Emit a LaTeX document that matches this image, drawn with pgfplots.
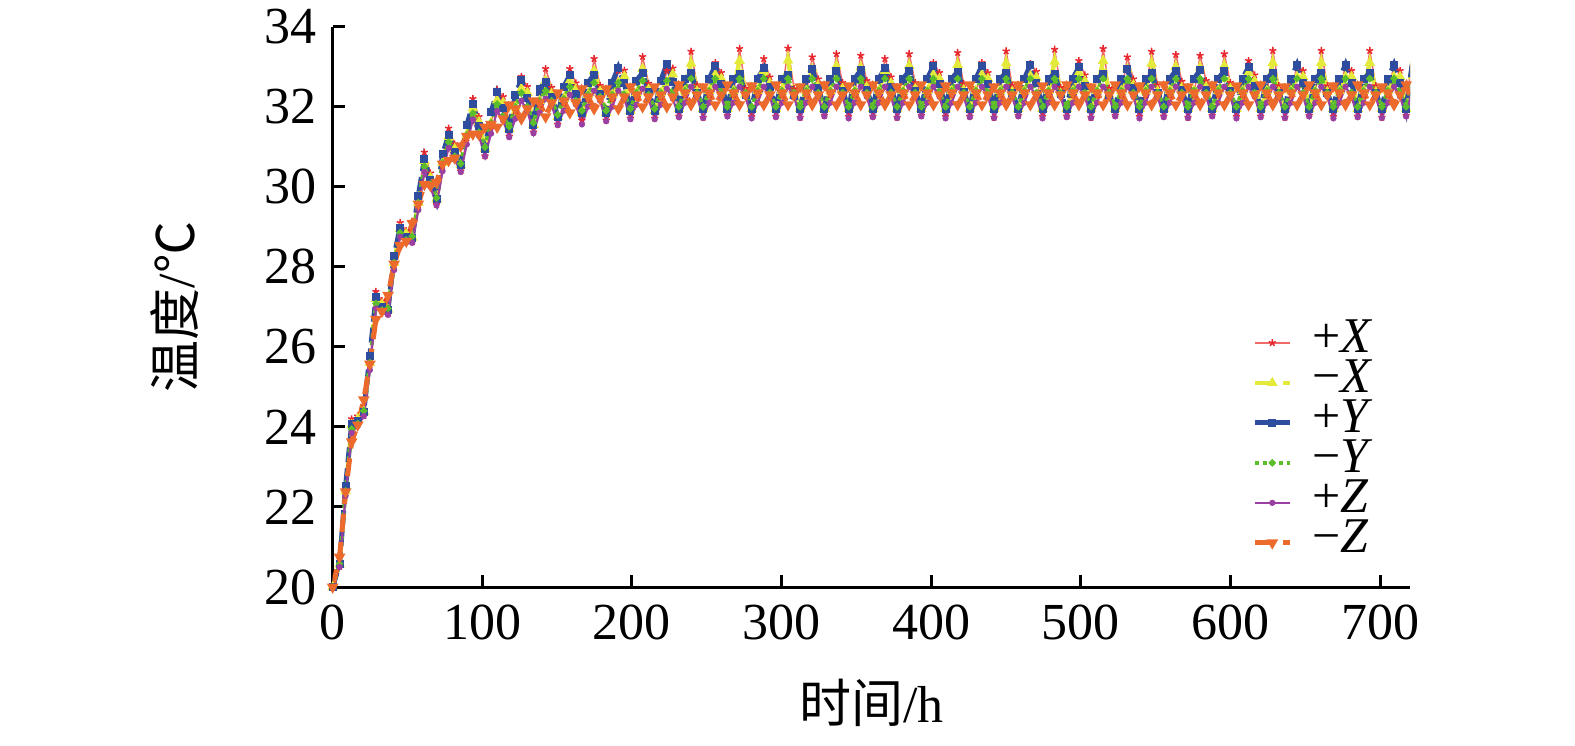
\documentclass[border=0pt]{standalone}
\usepackage{pgfplots}
\pgfplotsset{compat=1.18}
\usepackage{pgfplotstable}
\usepackage{fontspec}
\setmainfont{Liberation Serif}
\newfontfamily\cjk{Noto Sans CJK SC}
\definecolor{cR}{HTML}{E8262D}
\definecolor{cRl}{HTML}{F06A6A}
\definecolor{cY}{HTML}{E4EA3A}
\definecolor{cB}{HTML}{2E4D9E}
\definecolor{cG}{HTML}{5DBE2C}
\definecolor{cP}{HTML}{9B3FA2}
\definecolor{cO}{HTML}{EC6A2C}
\pgfplotstableread{
t R Y B G P O
0.00 20.00 20.00 20.00 20.00 20.00 20.00
4.60 20.51 20.57 20.57 20.58 20.50 20.75
8.65 22.36 22.40 22.52 22.40 22.28 22.38
12.70 24.20 24.05 24.08 23.95 23.85 23.63
16.75 24.27 24.20 24.15 24.08 24.03 24.05
20.80 24.28 24.38 24.38 24.40 24.27 24.68
24.85 25.54 25.60 25.78 25.60 25.42 25.57
28.90 27.38 27.20 27.24 27.08 26.96 26.69
32.95 27.15 27.06 27.00 26.92 26.86 26.89
37.00 26.82 26.93 26.93 26.96 26.80 27.29
41.05 28.04 28.10 28.28 28.10 27.92 28.07
45.10 29.10 28.95 28.98 28.85 28.75 28.53
49.15 28.90 28.82 28.75 28.67 28.61 28.64
53.20 28.62 28.73 28.73 28.76 28.60 29.09
57.25 29.54 29.60 29.78 29.60 29.42 29.57
61.30 30.86 30.65 30.69 30.51 30.37 30.06
65.35 30.34 30.23 30.16 30.07 30.00 30.03
69.40 29.55 29.69 29.69 29.72 29.54 30.11
73.45 30.53 30.60 30.81 30.60 30.39 30.57
77.50 31.46 31.25 31.29 31.11 30.97 30.66
81.55 31.07 30.95 30.87 30.76 30.68 30.72
85.60 30.39 30.54 30.54 30.58 30.37 31.02
89.65 31.22 31.30 31.54 31.30 31.06 31.26
93.70 32.20 31.96 32.07 31.84 31.68 31.32
97.75 31.75 31.62 31.52 31.36 31.27 31.31
101.80 30.77 30.95 30.95 30.99 30.76 31.49
105.85 31.51 31.60 31.87 31.60 31.33 31.56
109.90 32.43 32.16 32.36 32.07 31.89 31.49
113.95 32.25 32.10 31.96 31.75 31.65 31.70
118.00 31.26 31.45 31.45 31.50 31.24 32.05
122.05 31.90 32.00 32.30 32.00 31.70 31.95
126.10 32.75 32.45 32.67 32.35 32.15 31.70
130.15 32.50 32.35 32.21 32.00 31.90 31.95
134.20 31.36 31.55 31.55 31.60 31.34 32.15
138.25 32.05 32.15 32.45 32.15 31.85 32.10
142.30 32.95 32.65 32.63 32.40 32.20 31.75
146.35 32.48 32.33 32.25 32.15 32.05 32.10
150.40 31.56 31.75 31.75 31.80 31.54 32.35
154.45 32.10 32.20 32.50 32.20 31.90 32.15
158.50 32.95 32.65 32.79 32.50 32.30 31.85
162.55 32.59 32.44 32.33 32.15 32.05 32.10
166.60 31.66 31.85 31.85 31.90 31.56 32.45
170.65 32.20 32.30 32.60 32.30 32.00 32.25
174.70 33.20 32.90 32.80 32.60 32.40 31.95
178.75 32.53 32.38 32.31 32.25 32.15 32.20
182.80 31.66 31.85 31.85 31.90 31.64 32.45
186.85 32.20 32.30 32.60 32.30 32.00 32.25
190.90 32.90 32.60 32.98 32.60 32.40 31.95
194.95 32.91 32.76 32.59 32.30 32.20 32.25
199.00 31.71 31.90 31.90 31.95 31.69 32.50
203.05 32.25 32.35 32.65 32.35 32.05 32.30
207.10 33.25 32.95 32.85 32.65 32.45 32.00
211.15 32.58 32.43 32.36 32.30 32.20 32.25
215.20 31.71 31.90 31.90 31.95 31.69 32.50
219.25 32.25 32.35 32.65 32.35 32.05 32.30
223.30 32.90 32.60 33.06 32.65 32.45 32.00
227.35 32.96 32.81 32.63 32.30 32.20 32.25
231.40 31.76 31.95 31.95 32.00 31.74 32.55
235.45 32.30 32.40 32.70 32.40 32.10 32.35
239.50 33.38 33.08 32.85 32.70 32.50 32.05
243.55 32.54 32.39 32.35 32.35 32.25 32.30
247.60 31.73 31.95 31.95 32.00 31.72 32.50
251.65 32.30 32.40 32.70 32.40 32.10 32.35
255.70 33.10 32.80 33.02 32.70 32.50 32.05
259.75 32.85 32.70 32.56 32.35 32.25 32.30
263.80 31.78 31.95 31.95 32.00 31.76 32.55
267.85 32.30 32.40 32.70 32.40 32.10 32.35
271.90 33.45 33.15 32.81 32.70 32.50 32.05
275.95 32.46 32.31 32.30 32.35 32.25 32.30
280.00 31.75 31.95 31.95 32.00 31.71 32.52
284.05 32.30 32.40 32.70 32.40 32.10 32.35
288.10 33.20 32.90 32.96 32.70 32.50 32.05
292.15 32.74 32.59 32.49 32.35 32.25 32.30
296.20 31.76 31.95 31.95 32.00 31.74 32.55
300.25 32.30 32.40 32.70 32.40 32.10 32.35
304.30 33.46 33.16 32.80 32.70 32.50 32.05
308.35 32.45 32.30 32.29 32.35 32.25 32.30
312.40 31.73 31.95 31.95 32.00 31.72 32.50
316.45 32.30 32.40 32.70 32.40 32.10 32.35
320.50 33.24 32.94 32.94 32.70 32.50 32.05
324.55 32.69 32.54 32.46 32.35 32.25 32.30
328.60 31.78 31.95 31.95 32.00 31.76 32.55
332.65 32.30 32.40 32.70 32.40 32.10 32.35
336.70 33.32 33.02 32.89 32.70 32.50 32.05
340.75 32.60 32.45 32.40 32.35 32.25 32.30
344.80 31.75 31.95 31.95 32.00 31.71 32.52
348.85 32.30 32.40 32.70 32.40 32.10 32.35
352.90 33.28 32.98 32.91 32.70 32.50 32.05
356.95 32.65 32.50 32.43 32.35 32.25 32.30
361.00 31.76 31.95 31.95 32.00 31.74 32.55
365.05 32.30 32.40 32.70 32.40 32.10 32.35
369.10 33.20 32.90 32.96 32.70 32.50 32.05
373.15 32.74 32.59 32.49 32.35 32.25 32.30
377.20 31.73 31.95 31.95 32.00 31.72 32.50
381.25 32.30 32.40 32.70 32.40 32.10 32.35
385.30 33.32 33.02 32.89 32.70 32.50 32.05
389.35 32.60 32.45 32.40 32.35 32.25 32.30
393.40 31.78 31.95 31.95 32.00 31.76 32.55
397.45 32.30 32.40 32.70 32.40 32.10 32.35
401.50 33.10 32.80 33.02 32.70 32.50 32.05
405.55 32.85 32.70 32.56 32.35 32.25 32.30
409.60 31.75 31.95 31.95 32.00 31.71 32.52
413.65 32.30 32.40 32.70 32.40 32.10 32.35
417.70 33.35 33.05 32.87 32.70 32.50 32.05
421.75 32.57 32.42 32.38 32.35 32.25 32.30
425.80 31.76 31.95 31.95 32.00 31.74 32.55
429.85 32.30 32.40 32.70 32.40 32.10 32.35
433.90 33.10 32.80 33.02 32.70 32.50 32.05
437.95 32.85 32.70 32.56 32.35 32.25 32.30
442.00 31.73 31.95 31.95 32.00 31.72 32.50
446.05 32.30 32.40 32.70 32.40 32.10 32.35
450.10 33.39 33.09 32.85 32.70 32.50 32.05
454.15 32.53 32.38 32.35 32.35 32.25 32.30
458.20 31.78 31.95 31.95 32.00 31.76 32.55
462.25 32.30 32.40 32.70 32.40 32.10 32.35
466.30 33.07 32.77 33.04 32.70 32.50 32.05
470.35 32.88 32.73 32.59 32.35 32.25 32.30
474.40 31.75 31.95 31.95 32.00 31.71 32.52
478.45 32.30 32.40 32.70 32.40 32.10 32.35
482.50 33.43 33.13 32.82 32.70 32.50 32.05
486.55 32.48 32.33 32.32 32.35 32.25 32.30
490.60 31.76 31.95 31.95 32.00 31.74 32.55
494.65 32.30 32.40 32.70 32.40 32.10 32.35
498.70 33.15 32.85 32.99 32.70 32.50 32.05
502.75 32.79 32.64 32.53 32.35 32.25 32.30
506.80 31.73 31.95 31.95 32.00 31.72 32.50
510.85 32.30 32.40 32.70 32.40 32.10 32.35
514.90 33.45 33.15 32.81 32.70 32.50 32.05
518.95 32.46 32.31 32.30 32.35 32.25 32.30
523.00 31.78 31.95 31.95 32.00 31.76 32.55
527.05 32.30 32.40 32.70 32.40 32.10 32.35
531.10 33.24 32.94 32.94 32.70 32.50 32.05
535.15 32.69 32.54 32.46 32.35 32.25 32.30
539.20 31.75 31.95 31.95 32.00 31.71 32.52
543.25 32.30 32.40 32.70 32.40 32.10 32.35
547.30 33.38 33.08 32.85 32.70 32.50 32.05
551.35 32.54 32.39 32.35 32.35 32.25 32.30
555.40 31.76 31.95 31.95 32.00 31.74 32.55
559.45 32.30 32.40 32.70 32.40 32.10 32.35
563.50 33.30 33.00 32.90 32.70 32.50 32.05
567.55 32.63 32.48 32.41 32.35 32.25 32.30
571.60 31.73 31.95 31.95 32.00 31.72 32.50
575.65 32.30 32.40 32.70 32.40 32.10 32.35
579.70 33.28 32.98 32.91 32.70 32.50 32.05
583.75 32.65 32.50 32.43 32.35 32.25 32.30
587.80 31.78 31.95 31.95 32.00 31.76 32.55
591.85 32.30 32.40 32.70 32.40 32.10 32.35
595.90 33.32 33.02 32.89 32.70 32.50 32.05
599.95 32.60 32.45 32.40 32.35 32.25 32.30
604.00 31.75 31.95 31.95 32.00 31.71 32.52
608.05 32.30 32.40 32.70 32.40 32.10 32.35
612.10 33.15 32.85 32.99 32.70 32.50 32.05
616.15 32.79 32.64 32.53 32.35 32.25 32.30
620.20 31.76 31.95 31.95 32.00 31.74 32.55
624.25 32.30 32.40 32.70 32.40 32.10 32.35
628.30 33.40 33.10 32.84 32.70 32.50 32.05
632.35 32.52 32.37 32.34 32.35 32.25 32.30
636.40 31.73 31.95 31.95 32.00 31.72 32.50
640.45 32.30 32.40 32.70 32.40 32.10 32.35
644.50 33.05 32.75 33.05 32.70 32.50 32.05
648.55 32.90 32.75 32.60 32.35 32.25 32.30
652.60 31.78 31.95 31.95 32.00 31.76 32.55
656.65 32.30 32.40 32.70 32.40 32.10 32.35
660.70 33.40 33.10 32.84 32.70 32.50 32.05
664.75 32.52 32.37 32.34 32.35 32.25 32.30
668.80 31.75 31.95 31.95 32.00 31.71 32.52
672.85 32.30 32.40 32.70 32.40 32.10 32.35
676.90 33.05 32.75 33.05 32.70 32.50 32.05
680.95 32.90 32.75 32.60 32.35 32.25 32.30
685.00 31.76 31.95 31.95 32.00 31.74 32.55
689.05 32.30 32.40 32.70 32.40 32.10 32.35
693.10 33.40 33.10 32.84 32.70 32.50 32.05
697.15 32.52 32.37 32.34 32.35 32.25 32.30
701.20 31.73 31.95 31.95 32.00 31.72 32.50
705.25 32.30 32.40 32.70 32.40 32.10 32.35
709.30 33.05 32.75 33.05 32.70 32.50 32.05
713.35 32.90 32.75 32.60 32.35 32.25 32.30
717.40 31.78 31.95 31.95 32.00 31.76 32.55
721.45 33.45 33.10 33.05 32.65 32.45 32.10
}\data
\begin{document}
\begin{tikzpicture}
\path[use as bounding box] (0,0) rectangle (472.5pt,223.5pt);
\begin{axis}[
  at={(99.8pt,47.4pt)}, anchor=south west,
  scale only axis, width=323.2pt, height=168.1pt,
  xmin=0, xmax=720, ymin=20, ymax=34,
  axis lines*=left,
  axis line style={line width=0.9pt, black},
  xtick={0,100,...,700}, ytick={20,22,...,34},
  tick align=inside, major tick length=3.6pt,
  every tick/.style={black, line width=0.9pt},
  /pgf/number format/assume math mode=true,
  tick label style={font=\fontsize{15.6pt}{18pt}\selectfont},
  xticklabel style={yshift=-1.8pt},
  yticklabel style={xshift=-1.2pt},
  xlabel={{\cjk 时间}/h}, ylabel={{\cjk 温度}/{\cjk ℃}},
  label style={font=\fontsize{15.6pt}{18pt}\selectfont},
  xlabel style={at={(axis description cs:0.5,-0.2409)}, anchor=base},
  ylabel style={at={(axis description cs:-0.1278,0.5)}, anchor=base, rotate=0},
  legend image code/.code={\draw[mark repeat=2,mark phase=2,#1] plot coordinates {(0pt,0pt) (5.25pt,0pt) (10.5pt,0pt)};},
  legend cell align=left,
  legend style={at={(axis cs:614.6,26.6)}, anchor=north west, draw=none, fill=none,
    inner sep=0pt, outer sep=0pt, row sep=0pt, column sep=6pt,
    nodes={inner sep=0pt, text height=9pt, text depth=3pt},
    font=\fontsize{15pt}{18pt}\selectfont},
]
\addplot[color=cRl, line width=0.45pt, mark=star, mark size=1.1pt, mark options={solid, cR, line width=0.45pt}] table[x=t, y=R] {\data};
\addlegendentry{+\textit{X}}
\addplot[color=cY, line width=1.3pt, dash pattern=on 5.4pt off 3pt, mark=triangle*, mark size=0.55pt, mark options={solid}] table[x=t, y=Y] {\data};
\addlegendentry{−\textit{X}}
\addplot[color=cB, line width=1.5pt, dash pattern=on 4.5pt off 1.8pt, mark=square*, mark size=0.45pt, mark options={solid}] table[x=t, y=B] {\data};
\addlegendentry{+\textit{Y}}
\addplot[color=cG, line width=1.2pt, dash pattern=on 1.2pt off 1.2pt, mark=*, mark size=0.35pt, mark options={solid}] table[x=t, y=G] {\data};
\addlegendentry{−\textit{Y}}
\addplot[color=cP, line width=0.65pt, mark=*, mark size=0.6pt, mark options={solid}] table[x=t, y=P] {\data};
\addlegendentry{+\textit{Z}}
\addplot[color=cO, line width=1.5pt, dash pattern=on 5.4pt off 3pt, mark=triangle*, mark size=0.55pt, mark options={solid, rotate=180}] table[x=t, y=O] {\data};
\addlegendentry{−\textit{Z}}
\end{axis}
\end{tikzpicture}
\end{document}
